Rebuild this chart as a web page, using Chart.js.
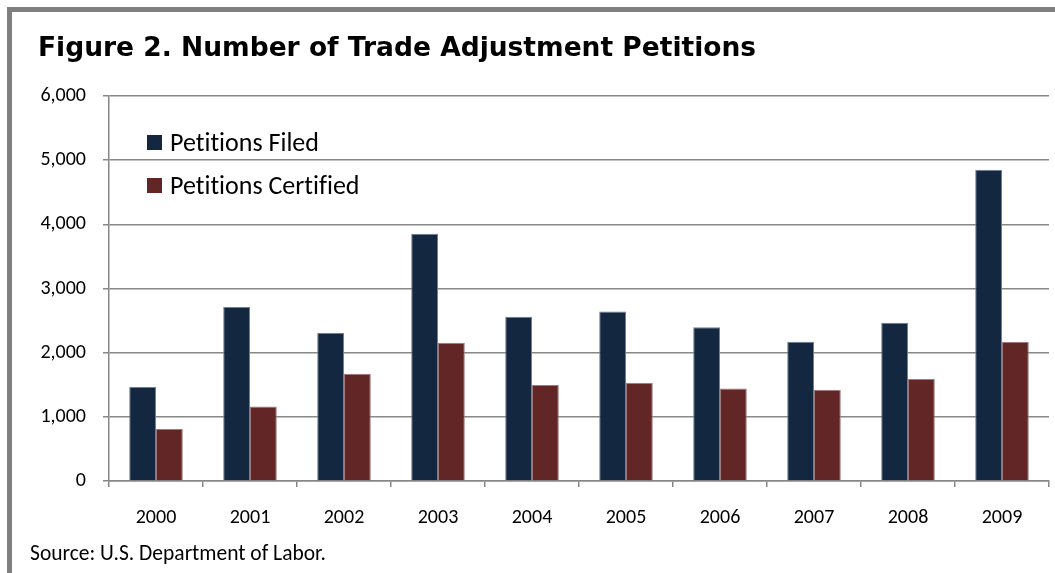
<!DOCTYPE html>
<html>
<head>
<meta charset="utf-8">
<script src="https://cdn.jsdelivr.net/npm/chart.js@4"></script>
<style>
  html, body { margin: 0; padding: 0; background: #fff; }
  #wrap { position: relative; width: 1055px; height: 573px; overflow: hidden; background: #fff; }
  #frame { position: absolute; left: 7px; top: 7px; width: 1100px; height: 620px;
           border-top: 5px solid #7f7f7f; border-left: 5px solid #7f7f7f; }
  #title { position: absolute; left: 38px; top: 31px; font: bold 26.5px "DejaVu Sans", Verdana, sans-serif;
           color: #000; white-space: nowrap; }
  #source { position: absolute; left: 30px; top: 540px; font: 21.5px Carlito, Lato, sans-serif; color: #000;
            white-space: nowrap; font-variant-ligatures: none; }
  #legend { position: absolute; left: 147px; top: 126px; font: 26px Carlito, Lato, sans-serif; color: #000;
            font-variant-ligatures: none; }
  .item { height: 43px; display: flex; align-items: flex-start; white-space: nowrap; }
  .box { width: 15px; height: 15px; margin-top: 9px; margin-right: 8px; }
  canvas { position: absolute; left: 0; top: 0; }
</style>
</head>
<body>
<div id="wrap">
  <div id="frame"></div>
  <canvas id="myChart" width="1055" height="573"></canvas>
  <div id="title">Figure 2. Number of Trade Adjustment Petitions</div>
  <div id="legend"></div>
  <div id="source">Source: U.S. Department of Labor.</div>
</div>
<script>
const years = ["2000","2001","2002","2003","2004","2005","2006","2007","2008","2009"];
const filed = [1465, 2710, 2305, 3855, 2560, 2640, 2395, 2170, 2465, 4850];
const certified = [810, 1160, 1670, 2155, 1495, 1530, 1440, 1420, 1590, 2165];
const seriesNames = ["Petitions Filed", "Petitions Certified"];
const barColors = ["#132741", "#632626"];
const edgeColors = ["#6f7f94", "#a07a7a"];
const yTicks = [0, 1000, 2000, 3000, 4000, 5000, 6000];

const gridGray = "#878787";
const labelFont = { family: "Carlito, Lato, sans-serif", size: 20 };

const petitions = {
    type: "bar",
    data: {
        labels: years,
        datasets: [{
            label: seriesNames[0],
            data: filed,
            backgroundColor: barColors[0],
            borderColor: edgeColors[0],
            borderWidth: 1,
            categoryPercentage: 0.57,
            barPercentage: 1.0
        }, {
            label: seriesNames[1],
            data: certified,
            backgroundColor: barColors[1],
            borderColor: edgeColors[1],
            borderWidth: 1,
            categoryPercentage: 0.57,
            barPercentage: 1.0
        }]
    },
    options: {
        responsive: false,
        animation: false,
        layout: { padding: { left: 0, top: 96, right: 6, bottom: 0 } },
        plugins: {
            legend: { display: false },
            title: { display: false },
            tooltip: { enabled: false }
        },
        scales: {
            x: {
                offset: true,
                grid: { display: true, offset: true, drawOnChartArea: false, drawTicks: true,
                        tickLength: 6, color: gridGray, lineWidth: 1.5 },
                border: { display: true, color: gridGray, width: 1.5 },
                ticks: { color: "#000", font: labelFont, padding: 19 },
                afterFit(s) { s.height = 92; }
            },
            y: {
                min: 0,
                max: 6000,
                afterBuildTicks(s) { s.ticks = yTicks.map(v => ({ value: v })); },
                grid: { color: gridGray, lineWidth: 1.5, tickLength: 6 },
                border: { display: true, color: gridGray, width: 1.5 },
                ticks: { color: "#000", font: labelFont, padding: 17,
                         callback: v => v.toLocaleString("en-US") },
                afterFit(s) { s.width = 109; }
            }
        }
    }
};

const myChart = new Chart("myChart", petitions);

// legend as real text, built from the datasets
const legendDiv = document.getElementById("legend");
myChart.data.datasets.forEach(ds => {
    const row = document.createElement("div");
    row.className = "item";
    const box = document.createElement("div");
    box.className = "box";
    box.style.background = ds.backgroundColor;
    const txt = document.createElement("span");
    txt.textContent = ds.label;
    row.appendChild(box);
    row.appendChild(txt);
    legendDiv.appendChild(row);
});
</script>
</body>
</html>
